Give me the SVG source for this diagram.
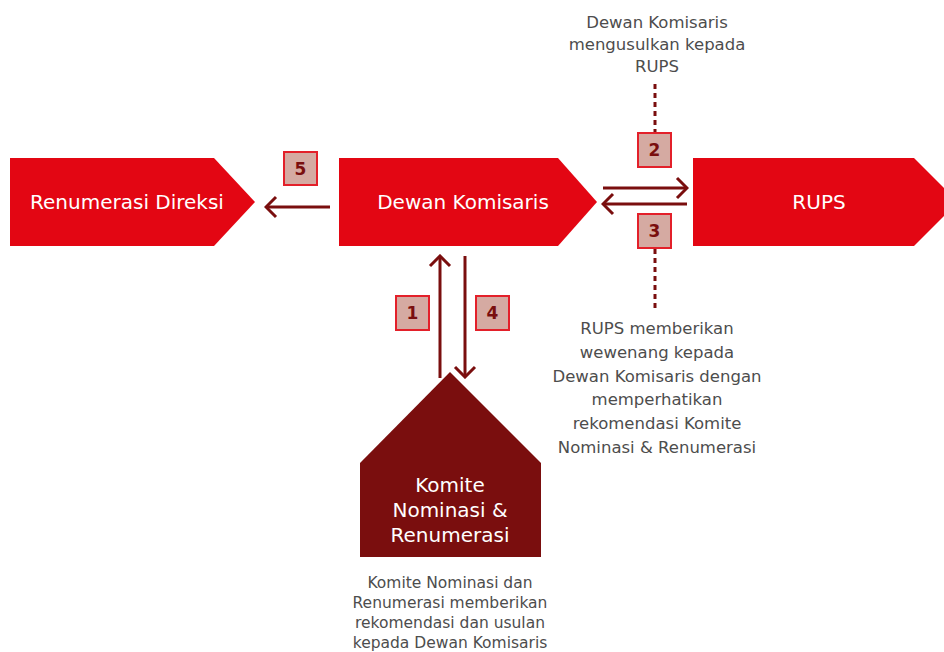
<svg xmlns="http://www.w3.org/2000/svg" width="944" height="652" viewBox="0 0 944 652">
<style>
.node{fill:#e30613}
.house{fill:#7a0e0e}
.nt{font-family:"DejaVu Sans",sans-serif;font-size:20px;fill:#fff;text-anchor:middle}
.ann{font-family:"DejaVu Sans",sans-serif;font-size:16.5px;fill:#4d4d4d;text-anchor:middle}
.ann2{font-family:"DejaVu Sans",sans-serif;font-size:15.5px;fill:#4d4d4d;text-anchor:middle}
.conn{stroke:#7a0e0e;stroke-width:3;fill:none;marker-end:url(#chev)}
.dot{stroke:#7a0e0e;stroke-width:3;fill:none;stroke-dasharray:5 4}
.badge rect{fill:#d5aaa2;stroke:#e3202a;stroke-width:2}
.badge text{font-family:"DejaVu Sans",sans-serif;font-weight:bold;font-size:17px;fill:#7a0e0e;text-anchor:middle}
</style>
<defs>
<marker id="chev" markerUnits="userSpaceOnUse" viewBox="0 0 14 24" markerWidth="14" markerHeight="24" refX="12" refY="12" orient="auto">
<path d="M2,2 L12,12 L2,22" fill="none" stroke="#7a0e0e" stroke-width="3"/>
</marker>
</defs>
<g id="connectors">
<line class="conn" x1="330" y1="207" x2="266" y2="207"/>
<line class="conn" x1="603" y1="188" x2="687" y2="188"/>
<line class="conn" x1="687" y1="204" x2="603" y2="204"/>
<line class="conn" x1="440" y1="378" x2="440" y2="256"/>
<line class="conn" x1="465" y1="256" x2="465" y2="377"/>
<line class="dot" x1="655" y1="84" x2="655" y2="133"/>
<line class="dot" x1="655" y1="249" x2="655" y2="308"/>
</g>
<g id="renumerasi-direksi">
<polygon class="node" points="10,158 214,158 255,202 214,246 10,246"/>
<text class="nt" x="127" y="209">Renumerasi Direksi</text>
</g>
<g id="dewan-komisaris">
<polygon class="node" points="339,158 558,158 597,202 558,246 339,246"/>
<text class="nt" x="463" y="209">Dewan Komisaris</text>
</g>
<g id="rups">
<polygon class="node" points="693,158 914,158 958,202 914,246 693,246"/>
<text class="nt" x="819" y="209">RUPS</text>
</g>
<g id="komite">
<polygon class="house" points="450,372 541,463 541,557 360,557 360,463"/>
<text class="nt" x="450" y="492">Komite</text>
<text class="nt" x="450" y="517">Nominasi &amp;</text>
<text class="nt" x="450" y="542">Renumerasi</text>
</g>
<g id="badge-1" class="badge"><rect x="396" y="296" width="33" height="34"/><text x="412.5" y="319">1</text></g>
<g id="badge-2" class="badge"><rect x="638" y="133" width="33" height="34"/><text x="654.5" y="156">2</text></g>
<g id="badge-3" class="badge"><rect x="638" y="214" width="33" height="34"/><text x="654.5" y="237">3</text></g>
<g id="badge-4" class="badge"><rect x="476" y="296" width="33" height="34"/><text x="492.5" y="319">4</text></g>
<g id="badge-5" class="badge"><rect x="284" y="152" width="33" height="33"/><text x="300.5" y="174.5">5</text></g>
<g id="note-top">
<text class="ann" x="657" y="28">Dewan Komisaris</text>
<text class="ann" x="657" y="50">mengusulkan kepada</text>
<text class="ann" x="657" y="72">RUPS</text>
</g>
<g id="note-rups">
<text class="ann" x="657" y="334">RUPS memberikan</text>
<text class="ann" x="657" y="358">wewenang kepada</text>
<text class="ann" x="657" y="382">Dewan Komisaris dengan</text>
<text class="ann" x="657" y="405">memperhatikan</text>
<text class="ann" x="657" y="429">rekomendasi Komite</text>
<text class="ann" x="657" y="453">Nominasi &amp; Renumerasi</text>
</g>
<g id="note-komite">
<text class="ann2" x="450" y="588">Komite Nominasi dan</text>
<text class="ann2" x="450" y="608">Renumerasi memberikan</text>
<text class="ann2" x="450" y="628">rekomendasi dan usulan</text>
<text class="ann2" x="450" y="647.5">kepada Dewan Komisaris</text>
</g>
</svg>
